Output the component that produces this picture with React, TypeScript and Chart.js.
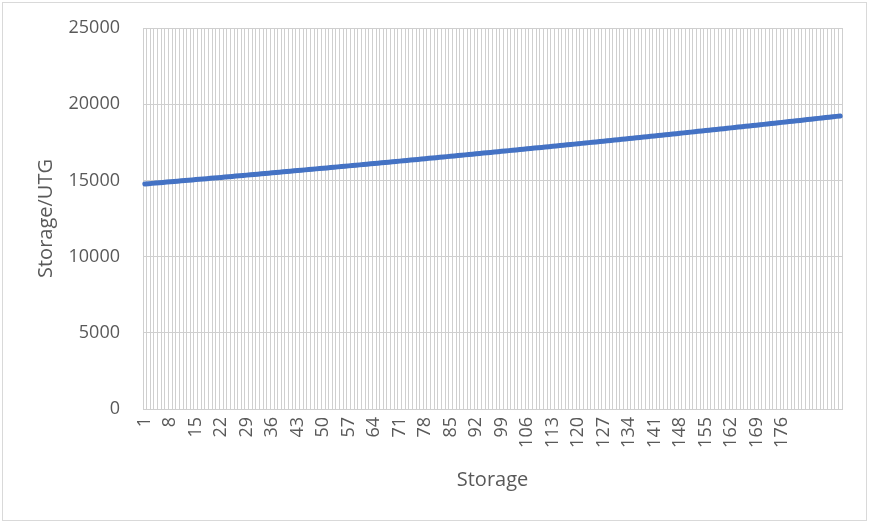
import React, { useEffect, useRef } from "react";
import { Chart, registerables } from "chart.js";

Chart.register(...registerables);

// Category labels 1..192 (the axis shows every 7th label up to 176)
const categoryCount = 192;
const categories: string[] = Array.from({ length: categoryCount }, (_, i) => String(i + 1));
const labelStep = 7;
const lastShownLabel = 176;

// Series values (Storage/UTG)
const storageValues: number[] = [
  14764, 14785, 14805, 14826, 14846, 14867, 14888, 14908, 14929, 14949,
  14970, 14990, 15011, 15031, 15052, 15072, 15093, 15113, 15134, 15154,
  15175, 15196, 15218, 15239, 15261, 15282, 15303, 15325, 15346, 15368,
  15389, 15411, 15432, 15454, 15475, 15497, 15518, 15540, 15561, 15583,
  15604, 15626, 15647, 15669, 15691, 15713, 15734, 15756, 15778, 15799,
  15821, 15843, 15865, 15887, 15909, 15931, 15953, 15975, 15997, 16019,
  16041, 16063, 16086, 16108, 16131, 16153, 16175, 16198, 16220, 16243,
  16265, 16288, 16310, 16333, 16355, 16378, 16401, 16423, 16446, 16468,
  16491, 16514, 16537, 16560, 16583, 16606, 16629, 16652, 16675, 16698,
  16721, 16744, 16768, 16791, 16814, 16838, 16861, 16884, 16907, 16931,
  16954, 16978, 17001, 17025, 17048, 17072, 17096, 17119, 17143, 17166,
  17190, 17214, 17238, 17262, 17286, 17310, 17333, 17357, 17381, 17405,
  17429, 17453, 17478, 17502, 17526, 17551, 17575, 17599, 17623, 17648,
  17672, 17697, 17721, 17746, 17770, 17795, 17820, 17844, 17869, 17893,
  17918, 17943, 17968, 17993, 18018, 18043, 18068, 18093, 18118, 18143,
  18168, 18193, 18219, 18244, 18269, 18295, 18320, 18345, 18370, 18396,
  18421, 18447, 18472, 18498, 18523, 18549, 18575, 18600, 18626, 18651,
  18677, 18703, 18729, 18755, 18781, 18807, 18833, 18859, 18885, 18911,
  18937, 18963, 18990, 19016, 19043, 19069, 19095, 19122, 19148, 19175,
  19201, 19228,
];

const yMin = 0;
const yMax = 25000;
const yStep = 5000;

const xTitle = "Storage";
const yTitle = "Storage/UTG";

const TEXT = "#595959";
const GRID = "#cfcfcf";
const FONT = "'Open Sans', 'Liberation Sans', sans-serif";

export default function App() {
  const canvasRef = useRef<HTMLCanvasElement | null>(null);

  useEffect(() => {
    const canvas = canvasRef.current;
    if (!canvas) return;
    const chart = new Chart(canvas, {
      type: "line",
      data: {
        labels: categories,
        datasets: [
          {
            label: yTitle,
            data: storageValues,
            borderColor: "#4472C4",
            backgroundColor: "#4472C4",
            borderWidth: 5,
            pointRadius: 0,
            tension: 0,
            borderCapStyle: "round",
          },
        ],
      },
      options: {
        animation: false,
        responsive: true,
        maintainAspectRatio: false,
        layout: { padding: { top: 28, right: 31, left: 0, bottom: 0 } },
        plugins: {
          legend: { display: false },
          tooltip: { enabled: false },
        },
        scales: {
          x: {
            type: "category",
            offset: true,
            grid: { display: true, offset: true, color: GRID, lineWidth: 1, drawTicks: false },
            border: { display: true, color: "#cfcfcf" },
            ticks: {
              autoSkip: false,
              minRotation: 90,
              maxRotation: 90,
              padding: 8,
              color: TEXT,
              font: { family: FONT, size: 18 },
              callback: (_v: any, index: number) => {
                const n = index + 1;
                return index % labelStep === 0 && n <= lastShownLabel ? categories[index] : "";
              },
            },
            title: {
              display: true,
              text: xTitle,
              color: TEXT,
              font: { family: FONT, size: 20 },
              padding: { top: 0, bottom: 33 },
            },
            afterFit: (scale: any) => {
              scale.height = 116;
            },
          },
          y: {
            min: yMin,
            max: yMax,
            grid: { color: GRID, lineWidth: 1, drawTicks: false },
            border: { display: false },
            ticks: {
              stepSize: yStep,
              padding: 23,
              color: TEXT,
              font: { family: FONT, size: 18 },
              callback: (v: any) => String(v),
            },
            title: {
              display: true,
              text: yTitle,
              color: TEXT,
              font: { family: FONT, size: 20 },
              padding: { top: 34, bottom: 0 },
            },
            afterFit: (scale: any) => {
              scale.width = 143;
              scale.paddingTop = 0;
              scale.paddingBottom = 0;
            },
          },
        },
      },
    });
    return () => chart.destroy();
  }, []);

  return (
    <div style={{ position: "absolute", left: 0, top: 0, width: 873, height: 525, background: "#ffffff" }}>
      <div
        style={{
          position: "absolute",
          left: 2,
          top: 2,
          width: 863,
          height: 517,
          border: "1.5px solid #d9d9d9",
        }}
      />
      <canvas ref={canvasRef} style={{ position: "absolute", left: 0, top: 0 }} />
    </div>
  );
}
